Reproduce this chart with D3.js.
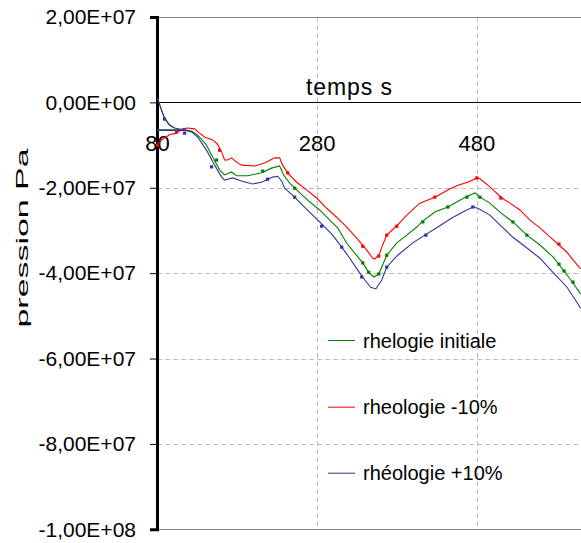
<!DOCTYPE html>
<html><head><meta charset="utf-8">
<script src="https://cdn.jsdelivr.net/npm/d3@7"></script>
<style>body{margin:0;background:#fff} svg{display:block} text{font-family:"Liberation Sans",Arial,sans-serif;fill:#000}</style>
</head><body><svg id="c" width="581" height="543"></svg>
<script>
// ---- data (time in s, pressure in MPa; null = break in the line) ----
const yTicks = [2e7, 0, -2e7, -4e7, -6e7, -8e7, -1e8];
const yTickLabels = ["2,00E+07","0,00E+00","-2,00E+07","-4,00E+07","-6,00E+07","-8,00E+07","-1,00E+08"];
const xTicks = [80, 280, 480];
const xTickLabels = ["80", "280", "480"];
const xGrid = [280, 480];
const yGrid = [-2e7, -4e7, -6e7, -8e7];

const seriesNames = ["rhelogie initiale", "rheologie -10%", "rhéologie +10%"];
const seriesColors = ["#008000", "#ff0000", "#333399"];

const greenT = [80,85,88.8,95,101.3,null,80,113.9,122.6,130.2,141.4,149,157.7,164,172.8,179.1,192.9,210.4,222.9,233,238,245.5,258.1,270.6,283.1,295.7,305.7,317,327,337.1,344.6,350.9,357.1,367.1,379.7,392.2,404.8,411,427.3,443.6,458.7,468.7,477.5,483.8,496.3,508.8,525.1,542.7,559,575.3,589.1,600.4,610];
const greenP = [1.0,-1.8,-3.7,-5.3,-6.0,null,-6.45,-6.45,-6.7,-7.6,-10.0,-12.8,-15.8,-17.0,-16.3,-17.2,-17.2,-16.5,-15.4,-14.9,-17.0,-18.9,-21.2,-23.3,-25.2,-27.6,-29.4,-33.0,-35.3,-37.6,-39.8,-40.9,-40.2,-35.8,-32.9,-31.1,-29.2,-28.0,-25.7,-24.5,-22.9,-21.9,-21.2,-22.2,-23.6,-25.7,-28.0,-31.1,-33.4,-36.2,-39.5,-42.3,-44.9];

const redT = [80,85,95,103.8,111.3,117.6,126.4,132.7,138.9,149,155.2,160.3,164,167.8,172.8,179.1,185.3,201.6,214.2,226.7,233,236.7,243,254.3,266.8,279.4,291.9,304.4,317,329.5,342.1,349.6,352.1,354.6,357.1,360.9,367.1,379.7,392.2,408.5,427.3,446.1,456.2,468.7,480,483.8,496.3,511.3,521.4,533.9,546.5,559,571.5,582.8,592.9,600.4,610];
const redP = [-10.0,-8.8,-7.6,-7.2,-6.2,-6.0,-6.2,-7.2,-8.1,-8.8,-9.8,-11.6,-13.5,-13.5,-13.0,-14.0,-14.7,-14.9,-14.2,-13.0,-13.0,-14.7,-16.5,-18.7,-20.5,-22.4,-24.8,-26.9,-29.2,-31.8,-34.6,-36.5,-36.7,-36.2,-36.0,-33.9,-31.1,-28.9,-26.4,-23.6,-22.2,-20.3,-19.4,-18.7,-17.7,-17.9,-19.8,-22.4,-23.6,-25.2,-27.6,-29.4,-31.5,-33.4,-35.1,-36.9,-39.0];

const blueT = [80,85,88.8,95,101.3,113.9,122.6,130.2,142.7,151.5,160.3,164,174,185.3,199.1,210.4,224.2,230.5,235.5,239.2,251.8,261.8,274.4,286.9,299.4,310.7,320.8,330.8,339.6,347.1,353.4,360.9,367.1,377.2,380.9,399.7,414.8,431.1,448.6,462.4,475,481.3,496.3,508.8,525.1,542.7,559,575.3,592.9,610,null,80,117.6];
const blueP = [1.0,-1.8,-3.7,-5.3,-6.0,-6.5,-6.9,-8.1,-11.6,-14.7,-17.5,-18.2,-17.7,-18.4,-19.1,-18.7,-17.5,-17.3,-18.4,-20.1,-22.2,-24.1,-26.4,-28.7,-31.1,-33.9,-36.5,-39.3,-41.6,-43.3,-43.7,-41.6,-38.6,-36.5,-35.8,-32.9,-31.1,-29.2,-27.1,-25.7,-24.5,-24.8,-26.4,-28.7,-31.6,-34.1,-36.5,-39.8,-43.3,-48.2,null,-6.55,-6.55];

// sparse point markers visible on each curve
const greenMarkT = [154,211.7,251.8,337.1,344.6,357.1,367.1,412.3,443.6,467.5,483.8,525.1,542.7,582.8,589.1,600.4];
const greenMarkP = [-13.5,-16.1,-20.1,-37.6,-39.8,-40.2,-35.8,-28.0,-24.5,-22.2,-22.2,-28.0,-31.1,-37.9,-39.5,-42.1];
const redMarkT = [80,103.8,157.7,243,337.1,357.1,367.1,379.7,427.3,480,510,582.8];
const redMarkP = [-10.0,-6.9,-11.2,-16.5,-33.7,-36.0,-31.1,-29.0,-22.2,-17.7,-22.4,-33.2];
const blueMarkT = [88.8,113.9,147.7,217.9,251.8,285.6,310.7,335.8,367.1,416.1,475];
const blueMarkP = [-3.9,-7.2,-15.1,-18.0,-22.2,-29.0,-33.9,-40.9,-38.6,-31.1,-24.5];

const series = [
  {t: greenT, p: greenP, mt: greenMarkT, mp: greenMarkP},
  {t: redT, p: redP, mt: redMarkT, mp: redMarkP},
  {t: blueT, p: blueP, mt: blueMarkT, mp: blueMarkP}
];

// ---- drawing ----
const svg = d3.select("#c");
svg.append("rect").attr("width",581).attr("height",543).attr("fill","#fff");

const x = d3.scaleLinear().domain([80, 610.4]).range([157.5, 581]);
const y = d3.scaleLinear().domain([-1e8, 2e7]).range([529.3, 17]);
const L = 157, R = 581;

// grid
svg.append("g").selectAll("line").data(yGrid).join("line")
  .attr("x1", L).attr("x2", R).attr("y1", d => Math.round(y(d))+0.5).attr("y2", d => Math.round(y(d))+0.5)
  .attr("stroke", "#bdbdbd").attr("stroke-dasharray", "5,3");
svg.append("g").selectAll("line").data(xGrid).join("line")
  .attr("x1", d => Math.round(x(d))+0.5).attr("x2", d => Math.round(x(d))+0.5).attr("y1", y(2e7)).attr("y2", y(-1e8))
  .attr("stroke", "#bdbdbd").attr("stroke-dasharray", "5,3");
// top & bottom border
[2e7, -1e8].forEach(v => svg.append("line").attr("x1", L).attr("x2", R)
  .attr("y1", Math.round(y(v))+0.5).attr("y2", Math.round(y(v))+0.5).attr("stroke", "#808080"));

// x axis at 0
svg.append("line").attr("x1", L).attr("x2", R).attr("y1", Math.round(y(0))+0.5).attr("y2", Math.round(y(0))+0.5)
  .attr("stroke", "#000");
// y axis
const yAxis = d3.axisLeft(y).tickValues(yTicks).tickSize(7).tickFormat((d,i) => yTickLabels[i]);
const ga = svg.append("g").attr("transform", `translate(${L},0)`).call(yAxis);
ga.select(".domain").attr("stroke", "#000").attr("stroke-width", 3);
ga.selectAll(".tick line").attr("stroke", "#000");
ga.selectAll(".tick text").attr("x", -21).attr("font-size", 21).attr("font-family", '"Liberation Sans",Arial,sans-serif').attr("fill","#000");

// x tick labels below the zero line
svg.append("g").selectAll("text").data(xTicks).join("text")
  .attr("x", d => x(d)).attr("y", 150.5).attr("text-anchor", "middle").attr("font-size", 22)
  .text((d,i) => xTickLabels[i]);

// axis titles
svg.append("text").attr("x", 349).attr("y", 95).attr("text-anchor", "middle").attr("font-size", 23).attr("textLength", 86).text("temps s");
svg.append("text").attr("transform", "translate(28,238) rotate(-90)").attr("text-anchor", "middle")
  .attr("font-size", 17).attr("textLength", 179).attr("lengthAdjust", "spacingAndGlyphs").text("pression Pa");

// series
svg.append("clipPath").attr("id", "clip").append("rect").attr("x", 154).attr("y", 15).attr("width", 430).attr("height", 516);
const plot = svg.append("g").attr("clip-path", "url(#clip)");
const line = d3.line().defined(d => d[0] !== null && d[1] !== null).x(d => x(d[0])).y(d => y(d[1]*1e6));
series.forEach((s, i) => {
  const pts = s.t.map((t, k) => [t, s.p[k]]);
  plot.append("path").attr("d", line(pts)).attr("fill", "none").attr("stroke", seriesColors[i]).attr("stroke-width", 1.1);
  plot.append("g").selectAll("rect").data(s.mt.map((t, k) => [t, s.mp[k]])).join("rect")
    .attr("x", d => x(d[0]) - 1.6).attr("y", d => y(d[1]*1e6) - 1.6).attr("width", 3.2).attr("height", 3.2)
    .attr("fill", seriesColors[i]);
});

// legend
const legY = [340, 406.7, 472.7];
const leg = svg.append("g");
seriesNames.forEach((n, i) => {
  leg.append("line").attr("x1", 328).attr("x2", 355).attr("y1", legY[i]+0.5).attr("y2", legY[i]+0.5)
    .attr("stroke", seriesColors[i]);
  leg.append("text").attr("x", 363).attr("y", legY[i] + 7.5).attr("font-size", 20).text(n);
});
</script></body></html>
